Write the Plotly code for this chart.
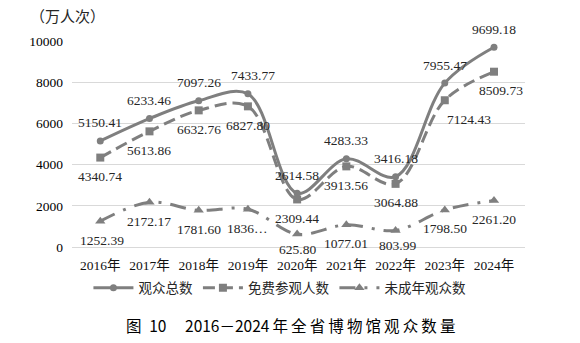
import plotly.graph_objects as go

# 2016-2024 museum visitor figures (unit: 10k visits)
years = ["2016年", "2017年", "2018年", "2019年", "2020年", "2021年", "2022年", "2023年", "2024年"]
total = [5150.41, 6233.46, 7097.26, 7433.77, 2614.58, 4283.33, 3416.18, 7955.47, 9699.18]
free = [4340.74, 5613.86, 6632.76, 6827.80, 2309.44, 3913.56, 3064.88, 7124.43, 8509.73]
minor = [1252.39, 2172.17, 1781.60, 1836.00, 625.80, 1077.01, 803.99, 1798.50, 2261.20]
y_ticks = [0, 2000, 4000, 6000, 8000, 10000]

total_labels = [f"{v:.2f}" for v in total]
free_labels = [f"{v:.2f}" for v in free]
minor_labels = [f"{v:.2f}" for v in minor]
minor_labels[3] = "1836…"

GRAY = "#7f7f7f"
TXT = "#262626"
SERIF = "Liberation Serif, Noto Sans CJK SC, serif"
CJK = "Noto Sans CJK SC, sans-serif"
TS = "\u2009"  # thin space used to spread the caption characters

fig = go.Figure()
fig.add_trace(go.Scatter(
    x=years, y=total, name="观众总数", mode="lines+markers",
    line=dict(color=GRAY, width=3, shape="spline", smoothing=1.0),
    marker=dict(symbol="circle", size=7, color=GRAY),
))
fig.add_trace(go.Scatter(
    x=years, y=free, name="免费参观人数", mode="lines+markers",
    line=dict(color=GRAY, width=3, shape="spline", smoothing=1.0, dash="12px,6px"),
    marker=dict(symbol="square", size=8, color=GRAY),
))
fig.add_trace(go.Scatter(
    x=years, y=minor, name="未成年观众数", mode="lines+markers",
    line=dict(color=GRAY, width=3, shape="spline", smoothing=1.0, dash="16px,9px,3px,9px"),
    marker=dict(symbol="triangle-up", size=9, color=GRAY),
))

annotations = []
label_font = dict(family=SERIF, size=13.5, color=TXT)
for i, yr in enumerate(years):
    annotations.append(dict(x=yr, y=total[i], text=total_labels[i], showarrow=False,
                            yshift=18, xshift=5 if i == 3 else 0, font=label_font))
    fx = {7: 24, 8: 7}.get(i, 0)
    annotations.append(dict(x=yr, y=free[i], text=free_labels[i], showarrow=False,
                            yshift=-19, xshift=fx, font=label_font))
    annotations.append(dict(x=yr, y=minor[i], text=minor_labels[i], showarrow=False,
                            yshift=-15 if i in (4, 6) else -19,
                            xshift=2 if i in (0, 6) else 0, font=label_font))

caption_cn = TS.join("年全省博物馆观众数量")
caption = f"图\u200210{TS}　2016－2024{TS}{caption_cn}"

annotations.append(dict(xref="paper", yref="paper", x=-0.097, y=1.126, xanchor="left",
                        yanchor="middle", text="（万人次）", showarrow=False,
                        font=dict(family=CJK, size=15, color=TXT)))
annotations.append(dict(xref="paper", yref="paper", x=0.483, y=-0.379, xanchor="center",
                        yanchor="middle", text=caption,
                        showarrow=False, font=dict(family=CJK, size=15.5, color="#000000")))

fig.update_layout(
    width=580, height=343,
    margin=dict(l=72, r=55, t=41, b=96),
    paper_bgcolor="white", plot_bgcolor="white",
    showlegend=True,
    legend=dict(orientation="h", x=0.459, y=-0.199, xanchor="center", yanchor="middle",
                font=dict(family=CJK, size=13.5, color=TXT), itemwidth=40,
                bgcolor="rgba(0,0,0,0)"),
    annotations=annotations,
)
fig.update_xaxes(showgrid=False, showline=False, ticks="", ticklabelstandoff=8,
                 tickfont=dict(family=SERIF, size=13.5, color="#111111"))
fig.update_yaxes(range=[0, 10000], tickvals=y_ticks, ticktext=[str(v) for v in y_ticks],
                 showgrid=True, gridcolor="#d9d9d9", gridwidth=1, zeroline=True,
                 zerolinecolor="#d9d9d9", zerolinewidth=1, ticks="", showline=False,
                 ticklabelstandoff=8,
                 tickfont=dict(family=SERIF, size=13.5, color="#000000"))

fig.write_html("out.html")
